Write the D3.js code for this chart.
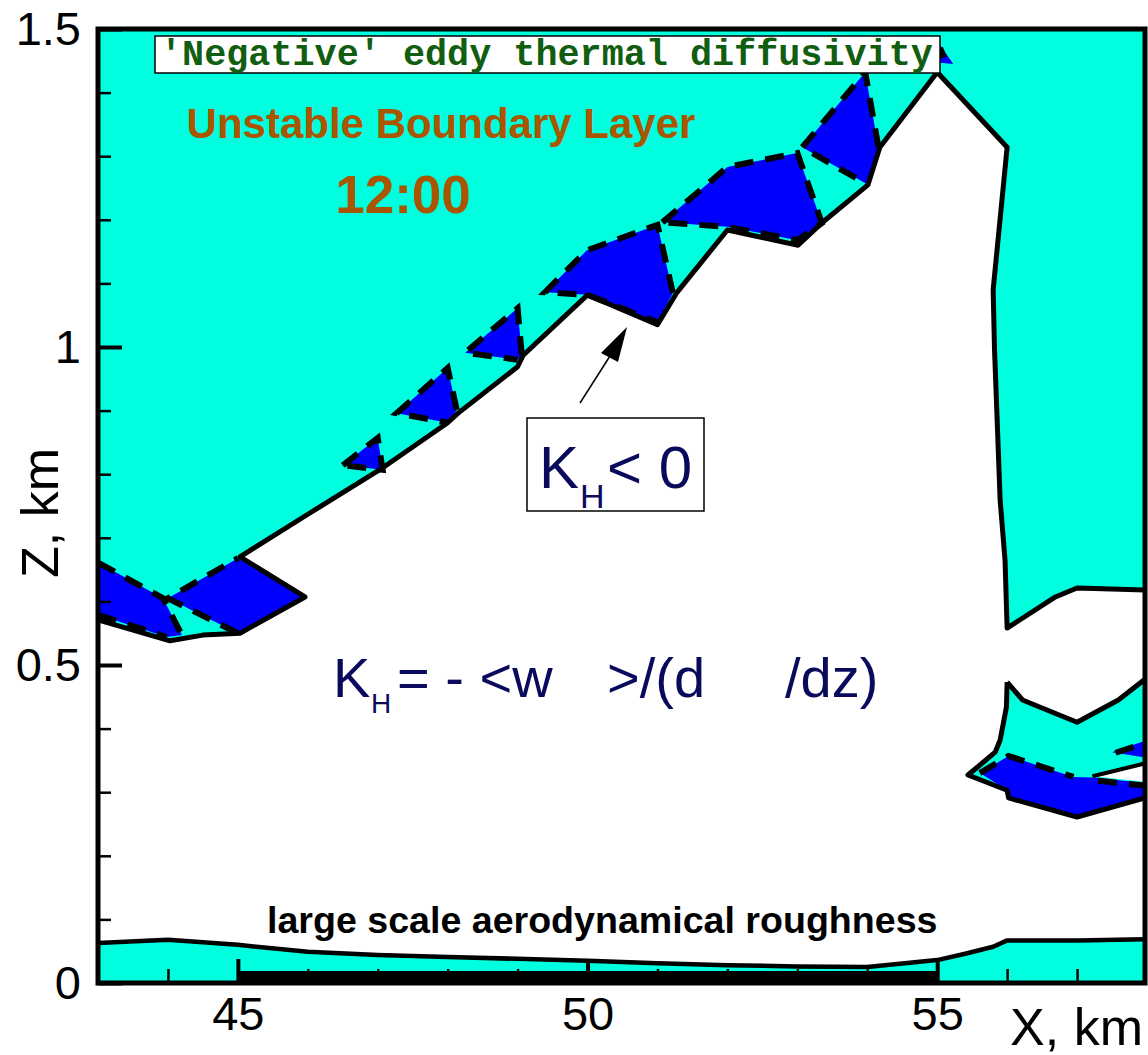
<!DOCTYPE html>
<html><head><meta charset="utf-8">
<script src="https://cdn.jsdelivr.net/npm/d3@7"></script>
<style>html,body{margin:0;padding:0;background:#fff;} svg{display:block;}</style>
</head><body>
<svg id="chart" width="1148" height="1055"></svg>
<script>
// ---------- data (x in km, z in km) ----------
const xDomain = [43, 58];
const zDomain = [0, 1.5];
const xMajorTicks = [45, 50, 55];
const xMinorTicks = [44, 46, 47, 48, 49, 51, 52, 53, 54, 56, 57];
const zMajorTicks = [0, 0.5, 1, 1.5];
const zMinorTicks = [0.1, 0.2, 0.3, 0.4, 0.6, 0.7, 0.8, 0.9, 1.1, 1.2, 1.3, 1.4];

// surface layer (large scale aerodynamical roughness) top
const groundSurface = [[43,0.063],[44,0.068],[45,0.060],[46,0.049],[47,0.044],[48,0.041],[49,0.038],[50,0.035],[51,0.031],[52,0.028],[53,0.026],[54,0.025],[55,0.036],[55.4,0.046],[55.8,0.057],[56,0.067],[57,0.067],[58,0.069]];
const roughnessBar = [45, 55];

// solid boundary of the upper (cyan) region
const upperBoundary = [[43,0.571],[44.03,0.538],[44.5,0.547],[45.03,0.550],[45.96,0.607],[45.03,0.670],[46.03,0.739],[47.03,0.807],[48.0,0.881],[48.15,0.896],[49.0,0.969],[49.08,0.987],[50.0,1.082],[51.0,1.035],[51.28,1.086],[52.0,1.184],[53.01,1.160],[53.37,1.197],[54.01,1.255],[54.18,1.314],[55.0,1.432],[56.0,1.314],[55.8,1.090],[55.82,0.995],[55.9,0.759],[55.97,0.665],[56.0,0.558],[56.69,0.607],[57.0,0.621],[58,0.618]];

// lower right cyan region: top edge and bottom/left edge
const lowerRightTop = [[56.0,0.473],[56.22,0.445],[57.0,0.410],[57.59,0.445],[58,0.480]];
const lowerRightBottom = [[58,0.292],[57.0,0.261],[56.02,0.291],[56.0,0.303],[55.44,0.327],[55.83,0.363],[55.9,0.382],[55.99,0.434],[56.0,0.473]];

// negative K_H cells (blue)
const negativeCells = [
  [[43,0.661],[43.93,0.605],[44.2,0.547],[43.98,0.544],[43,0.579]],
  [[44.0,0.605],[45.0,0.668],[45.96,0.607],[45.0,0.550]],
  [[46.5,0.814],[47.0,0.857],[47.07,0.807]],
  [[47.27,0.896],[48.0,0.967],[48.13,0.901],[48.0,0.881]],
  [[48.25,0.991],[49.0,1.061],[49.06,0.987],[49.0,0.980]],
  [[49.39,1.086],[49.99,1.152],[51.0,1.192],[51.22,1.085],[51.0,1.039],[50.0,1.082]],
  [[51.07,1.196],[52.0,1.283],[53.0,1.305],[53.35,1.195],[53.0,1.168],[52.0,1.189]],
  [[53.07,1.314],[53.97,1.432],[54.16,1.314],[54.01,1.255]],
  [[55.04,1.475],[55.04,1.447],[55.23,1.445]],
  [[55.61,0.330],[56.02,0.357],[56.95,0.324],[57.22,0.323],[58,0.314],[58,0.292],[57.0,0.261],[56.02,0.291],[56.0,0.303]],
  [[57.5,0.363],[58,0.382],[58,0.354]]
];
// white wedge inside lower right region
const whiteWedge = [[57.22,0.325],[58,0.346],[58,0.316]];
const wedgeTop = [[57.22,0.325],[58,0.346]];

// K_H = 0 contours (dashed)
const zeroContours = [
  [[43,0.661],[43.93,0.605],[44.2,0.547]],
  [[43,0.579],[43.98,0.544]],
  [[45.0,0.550],[44.0,0.605],[45.0,0.668]],
  [[46.5,0.814],[47.0,0.857],[47.07,0.807],[46.5,0.814]],
  [[48.13,0.901],[48.0,0.967],[47.27,0.896],[48.0,0.881]],
  [[49.06,0.987],[49.0,1.061],[48.25,0.991],[49.0,0.980]],
  [[51.22,1.085],[51.0,1.192],[49.99,1.152],[49.39,1.086],[50.0,1.082],[51.0,1.039]],
  [[51.07,1.196],[52.0,1.283],[53.0,1.305],[53.35,1.195],[53.0,1.168],[52.0,1.189],[51.07,1.196]],
  [[54.16,1.314],[53.97,1.432],[53.07,1.314],[54.01,1.255]],
  [[55.04,1.470],[55.1,1.455]],
  [[55.61,0.330],[56.02,0.357],[56.95,0.324]],
  [[57.3,0.318],[58,0.310]],
  [[57.55,0.362],[58,0.378]]
];

// ---------- drawing ----------
const svg = d3.select('#chart');
const x = d3.scaleLinear().domain(xDomain).range([98, 1147]);
const y = d3.scaleLinear().domain(zDomain).range([983, 29]);
const line = d3.line().x(d => x(d[0])).y(d => y(d[1]));
const CYAN = '#00ffdf', BLUE = '#0000ff';
const RIGHT = 1145;

svg.append('defs').append('clipPath').attr('id','plotclip')
  .append('rect').attr('x', x(43)).attr('y', y(1.5)).attr('width', RIGHT - x(43)).attr('height', y(0) - y(1.5));
const plot = svg.append('g').attr('clip-path','url(#plotclip)');

function solid(data, w){
  plot.append('path').datum(data).attr('d', line)
    .attr('fill','none').attr('stroke','#000').attr('stroke-width', w || 5).attr('stroke-linejoin','round');
}

// ground layer
plot.append('path').datum([[43,0], ...groundSurface, [58,0]]).attr('d', line).attr('fill', CYAN);

// upper cyan region
plot.append('path').datum([[43,1.5], ...upperBoundary, [58,1.5]]).attr('d', line).attr('fill', CYAN);
// lower right cyan region
plot.append('path').datum([...lowerRightTop, ...lowerRightBottom]).attr('d', d => line(d) + 'Z').attr('fill', CYAN);

// blue cells
plot.selectAll('path.neg').data(negativeCells).join('path').attr('class','neg')
  .attr('d', d => line(d) + 'Z').attr('fill', BLUE);
plot.append('path').datum(whiteWedge).attr('d', d => line(d) + 'Z').attr('fill', '#fff');

// solid boundaries
solid(groundSurface, 4.5);
solid(upperBoundary);
solid(lowerRightTop);
solid(lowerRightBottom);
solid(wedgeTop, 4);

// dashed zero contours
plot.selectAll('path.zero').data(zeroContours).join('path').attr('class','zero')
  .attr('d', line).attr('fill','none').attr('stroke','#000').attr('stroke-width',6)
  .attr('stroke-dasharray','19,12');

// roughness bar
svg.append('rect').attr('x', x(roughnessBar[0])).attr('width', x(roughnessBar[1]) - x(roughnessBar[0]))
  .attr('y', 971).attr('height', y(0) - 971).attr('fill','#000');

// axes
const font = "'Liberation Sans', Arial, sans-serif";
const xAxisMajor = d3.axisBottom(x).tickValues(xMajorTicks).tickSizeInner(-24).tickSizeOuter(0).tickPadding(14).tickFormat(d3.format('d'));
const xAxisMinor = d3.axisBottom(x).tickValues(xMinorTicks).tickSizeInner(-14).tickSizeOuter(0).tickFormat('');
const yAxisMajor = d3.axisLeft(y).tickValues(zMajorTicks).tickSizeInner(-24).tickSizeOuter(0).tickPadding(17).tickFormat(d => String(d));
const yAxisMinor = d3.axisLeft(y).tickValues(zMinorTicks).tickSizeInner(-13).tickSizeOuter(0).tickFormat('');

function styleAxis(g, w){
  g.select('.domain').remove();
  g.selectAll('line').attr('stroke','#000').attr('stroke-width', w);
  g.selectAll('text').attr('font-family', font).attr('font-size', 47).attr('fill','#000');
}
svg.append('g').attr('transform',`translate(0,${y(0)})`).call(xAxisMinor).call(styleAxis, 2.5);
svg.append('g').attr('transform',`translate(0,${y(0)})`).call(xAxisMajor).call(styleAxis, 4);
svg.append('g').attr('transform',`translate(${x(43)},0)`).call(yAxisMinor).call(styleAxis, 2.5);
svg.append('g').attr('transform',`translate(${x(43)},0)`).call(yAxisMajor).call(styleAxis, 4);

// frame
svg.append('rect').attr('x', x(43)).attr('y', y(1.5)).attr('width', RIGHT - x(43)).attr('height', y(0) - y(1.5))
  .attr('fill','none').attr('stroke','#000').attr('stroke-width',5);

// axis titles
svg.append('text').attr('transform','translate(58,513) rotate(-90)').attr('text-anchor','middle')
  .attr('font-family', font).attr('font-size', 52).text('Z, km');
svg.append('text').attr('x', 1143).attr('y', 1045).attr('text-anchor','end')
  .attr('font-family', font).attr('font-size', 52).text('X, km');

// annotations
svg.append('rect').attr('x',155).attr('y',36).attr('width',785).attr('height',37)
  .attr('fill','#fff').attr('stroke','#000').attr('stroke-width',1.5);
svg.append('text').attr('x',160).attr('y',65).attr('font-family',"'Liberation Mono', 'Courier New', monospace")
  .attr('font-weight','bold').attr('font-size',36.8).attr('fill','#115e11')
  .attr('xml:space','preserve').text("'Negative' eddy thermal diffusivity");

svg.append('text').attr('x',441).attr('y',138).attr('text-anchor','middle').attr('font-family',font)
  .attr('font-weight','bold').attr('font-size',42).attr('fill','#aa5500').text('Unstable Boundary Layer');
svg.append('text').attr('x',403).attr('y',213).attr('text-anchor','middle').attr('font-family',font)
  .attr('font-weight','bold').attr('font-size',53).attr('fill','#aa5500').text('12:00');

const NAVY = '#0a0a5c';
// K_H < 0 box + arrow
svg.append('rect').attr('x',527).attr('y',418).attr('width',177).attr('height',93)
  .attr('fill','#fff').attr('stroke','#000').attr('stroke-width',1.5);
svg.append('text').attr('x',539).attr('y',488).attr('font-family',font).attr('font-size',60).attr('fill',NAVY).text('K');
svg.append('text').attr('x',580).attr('y',508).attr('font-family',font).attr('font-size',34).attr('fill',NAVY).text('H');
svg.append('text').attr('x',607).attr('y',488).attr('font-family',font).attr('font-size',60).attr('fill',NAVY)
  .attr('xml:space','preserve').text('< 0');
svg.append('line').attr('x1',580).attr('y1',403).attr('x2',610).attr('y2',356).attr('stroke','#000').attr('stroke-width',1.5);
svg.append('path').attr('d','M627,327 L601,353 L618,362 Z').attr('fill','#000');

// formula
svg.append('text').attr('x',333).attr('y',697).attr('font-family',font).attr('font-size',56).attr('fill',NAVY).text('K');
svg.append('text').attr('x',371).attr('y',713).attr('font-family',font).attr('font-size',28).attr('fill',NAVY).text('H');
svg.append('text').attr('x',397).attr('y',697).attr('font-family',font).attr('font-size',56).attr('fill',NAVY)
  .attr('xml:space','preserve').text('= - <w');
svg.append('text').attr('x',607).attr('y',697).attr('font-family',font).attr('font-size',56).attr('fill',NAVY).text('>/(d');
svg.append('text').attr('x',785).attr('y',697).attr('font-family',font).attr('font-size',56).attr('fill',NAVY).text('/dz)');

svg.append('text').attr('x',267).attr('y',933).attr('font-family',font).attr('font-weight','bold')
  .attr('font-size',37.6).attr('fill','#000').text('large scale aerodynamical roughness');
</script>
</body></html>
